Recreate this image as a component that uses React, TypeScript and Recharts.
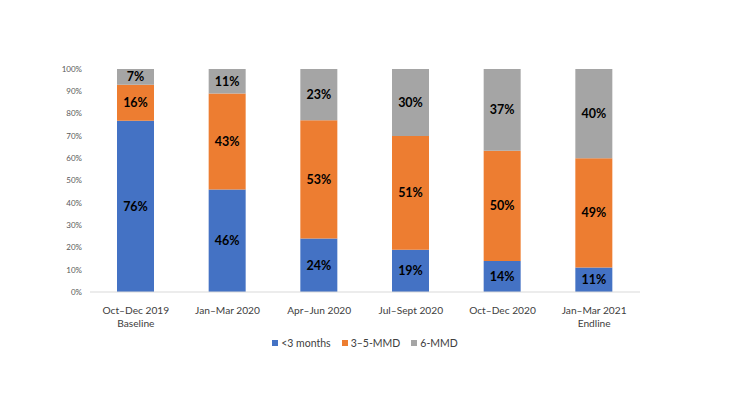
import { Bar, BarChart, LabelList, Legend, XAxis, YAxis } from "recharts"

const periods = ["Oct–Dec 2019", "Jan–Mar 2020", "Apr–Jun 2020", "Jul–Sept 2020", "Oct–Dec 2020", "Jan–Mar 2021"]
const phases = ["Baseline", "", "", "", "", "Endline"]
const under3 = [76, 46, 24, 19, 14, 11]
const mmd35 = [16, 43, 53, 51, 50, 49]
const mmd6 = [7, 11, 23, 30, 37, 40]
const yTicks = [0, 0.1, 0.2, 0.3, 0.4, 0.5, 0.6, 0.7, 0.8, 0.9, 1]

const series = [
  { key: "under3", name: "<3 months", color: "#4472C4" },
  { key: "mmd35", name: "3–5-MMD", color: "#ED7D31" },
  { key: "mmd6", name: "6-MMD", color: "#A5A5A5" },
]

const data = periods.map((p, i) => ({
  period: p,
  phase: phases[i],
  under3: under3[i],
  mmd35: mmd35[i],
  mmd6: mmd6[i],
}))

const font = "Lato, 'Open Sans', sans-serif"

function PeriodTick(props: any) {
  const { x, y, payload, index } = props
  return (
    <text x={x} y={y} textAnchor="middle" fontFamily={font} fontSize={10.2} fill="#404040">
      <tspan x={x} dy={14}>{payload.value}</tspan>
      {phases[index] ? <tspan x={x} dy={13}>{phases[index]}</tspan> : null}
    </text>
  )
}

function LegendBox() {
  return (
    <div style={{ display: "flex", justifyContent: "center", gap: 11, height: 18, alignItems: "center", fontFamily: font, fontSize: 10.5, color: "#404040" }}>
      {series.map((s) => (
        <div key={s.key} style={{ display: "flex", alignItems: "center", gap: 3 }}>
          <span style={{ width: 6, height: 6, background: s.color, display: "inline-block" }} />
          <span>{s.name}</span>
        </div>
      ))}
    </div>
  )
}

export default function App() {
  return (
    <div style={{ position: "absolute", left: 0, top: 0, width: 733, height: 408, background: "#fff" }}>
      <BarChart
        width={733}
        height={408}
        data={data}
        stackOffset="expand"
        margin={{ top: 69, right: 93, left: 0, bottom: 58 }}
      >
        <XAxis
          dataKey="period"
          height={40}
          tickLine={false}
          axisLine={{ stroke: "#d9d9d9" }}
          tick={<PeriodTick />}
          interval={0}
        />
        <YAxis
          width={90}
          domain={[0, 1]}
          ticks={yTicks}
          tickFormatter={(v) => `${Math.round(v * 100)}%`}
          tickLine={false}
          axisLine={false}
          tick={{ fontSize: 8, fill: "#595959", fontFamily: font }}
        />
        <Legend
          verticalAlign="bottom"
          content={<LegendBox />}
          wrapperStyle={{ position: "absolute", top: 334, left: 20, width: 690 }}
        />
        {series.map((s) => (
          <Bar key={s.key} dataKey={s.key} name={s.name} stackId="a" fill={s.color} barSize={37} isAnimationActive={false}>
            <LabelList
              dataKey={s.key}
              position="center"
              formatter={(v: any) => `${v}%`}
              fill="#000"
              fontSize={12.5}
              fontWeight="bold"
              fontFamily={font}
            />
          </Bar>
        ))}
      </BarChart>
    </div>
  )
}
